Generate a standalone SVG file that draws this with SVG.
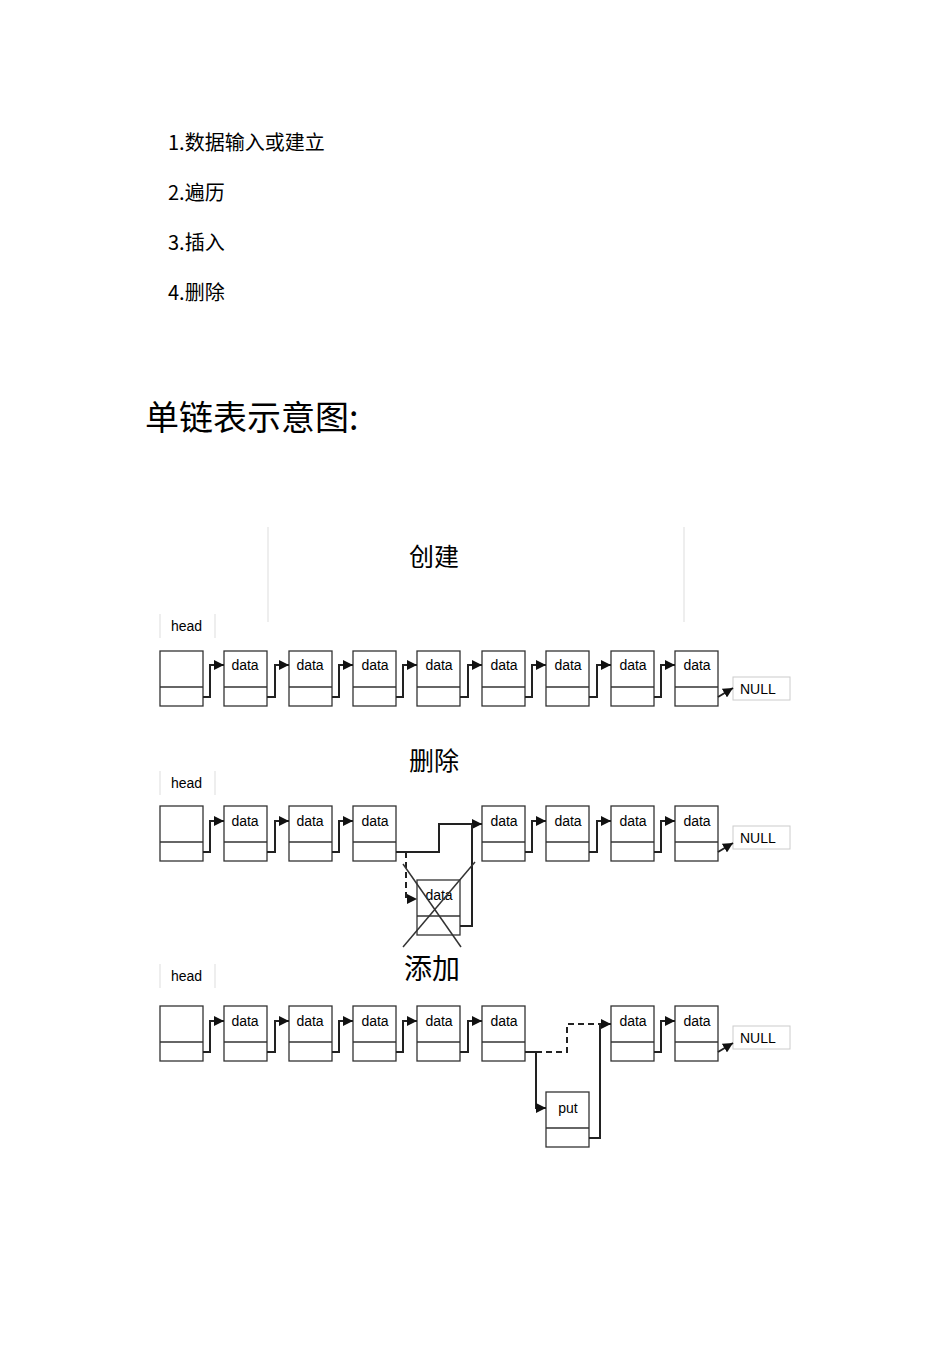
<svg xmlns="http://www.w3.org/2000/svg" width="950" height="1345" viewBox="0 0 950 1345">
<style>
.t{font-family:"Liberation Sans","Noto Sans CJK SC",sans-serif;fill:#000}
.cj{font-family:"Noto Sans CJK SC",sans-serif;fill:#000}
.b{fill:#fff;stroke:#333;stroke-width:1.3}
.c{fill:none;stroke:#222;stroke-width:2}
.d{fill:none;stroke:#222;stroke-width:2;stroke-dasharray:6,4}
.g{fill:none;stroke:#ddd;stroke-width:1}
.nl{fill:#fff;stroke:#ccc;stroke-width:1}
</style>
<defs>
<marker id="a" viewBox="0 0 10 10" refX="10" refY="5" markerWidth="5" markerHeight="5" orient="auto"><path d="M0,0L10,5L0,10z" fill="#111"/></marker>
<g id="nd"><rect class="b" x="0" y="0" width="43" height="55"/><line class="b" x1="0" y1="36" x2="43" y2="36"/></g>
</defs>
<rect width="950" height="1345" fill="#fff"/>
<g class="cj" font-size="20">
<text x="168" y="150">1.数据输入或建立</text>
<text x="168" y="200">2.遍历</text>
<text x="168" y="250">3.插入</text>
<text x="168" y="300">4.删除</text>
</g>
<text class="cj" x="145" y="430" font-size="34">单链表示意图:</text>
<line class="g" x1="268" y1="527" x2="268" y2="622"/>
<line class="g" x1="684" y1="527" x2="684" y2="622"/>
<text class="cj" x="434" y="566" font-size="25" text-anchor="middle">创建</text>
<text class="cj" x="434" y="770" font-size="25" text-anchor="middle">删除</text>
<text class="cj" x="432" y="979" font-size="28" text-anchor="middle">添加</text>
<g id="heads" class="t" font-size="14">
<text x="171" y="631">head</text><line class="g" x1="160" y1="614" x2="160" y2="638"/><line class="g" x1="215" y1="614" x2="215" y2="638"/>
<text x="171" y="788">head</text><line class="g" x1="160" y1="771" x2="160" y2="795"/><line class="g" x1="215" y1="771" x2="215" y2="795"/>
<text x="171" y="981">head</text><line class="g" x1="160" y1="964" x2="160" y2="988"/><line class="g" x1="215" y1="964" x2="215" y2="988"/>
</g>
<g id="nulls" class="t" font-size="14">
<rect class="nl" x="733" y="677" width="57" height="23"/><text x="740" y="694">NULL</text>
<rect class="nl" x="733" y="826" width="57" height="23"/><text x="740" y="843">NULL</text>
<rect class="nl" x="733" y="1026" width="57" height="23"/><text x="740" y="1043">NULL</text>
</g>
<g id="row1">
<use href="#nd" x="160" y="651"/><use href="#nd" x="224" y="651"/><use href="#nd" x="289" y="651"/><use href="#nd" x="353" y="651"/><use href="#nd" x="417" y="651"/><use href="#nd" x="482" y="651"/><use href="#nd" x="546" y="651"/><use href="#nd" x="611" y="651"/><use href="#nd" x="675" y="651"/>
</g>
<g id="row2">
<use href="#nd" x="160" y="806"/><use href="#nd" x="224" y="806"/><use href="#nd" x="289" y="806"/><use href="#nd" x="353" y="806"/><use href="#nd" x="482" y="806"/><use href="#nd" x="546" y="806"/><use href="#nd" x="611" y="806"/><use href="#nd" x="675" y="806"/>
<use href="#nd" x="417" y="880"/>
</g>
<g id="row3">
<use href="#nd" x="160" y="1006"/><use href="#nd" x="224" y="1006"/><use href="#nd" x="289" y="1006"/><use href="#nd" x="353" y="1006"/><use href="#nd" x="417" y="1006"/><use href="#nd" x="482" y="1006"/><use href="#nd" x="611" y="1006"/><use href="#nd" x="675" y="1006"/>
<use href="#nd" x="546" y="1092"/>
</g>
<g class="t" font-size="14" text-anchor="middle">
<text x="245" y="670">data</text><text x="310" y="670">data</text><text x="375" y="670">data</text><text x="439" y="670">data</text><text x="504" y="670">data</text><text x="568" y="670">data</text><text x="633" y="670">data</text><text x="697" y="670">data</text>
<text x="245" y="826">data</text><text x="310" y="826">data</text><text x="375" y="826">data</text><text x="504" y="826">data</text><text x="568" y="826">data</text><text x="633" y="826">data</text><text x="697" y="826">data</text><text x="439" y="900">data</text>
<text x="245" y="1026">data</text><text x="310" y="1026">data</text><text x="375" y="1026">data</text><text x="439" y="1026">data</text><text x="504" y="1026">data</text><text x="633" y="1026">data</text><text x="697" y="1026">data</text><text x="568" y="1113">put</text>
</g>
<g id="connectors">
<g id="c1">
<path class="c" marker-end="url(#a)" d="M203,697H210V665H224"/>
<path class="c" marker-end="url(#a)" d="M267,697H275V665H289"/>
<path class="c" marker-end="url(#a)" d="M332,697H339V665H353"/>
<path class="c" marker-end="url(#a)" d="M396,697H403V665H417"/>
<path class="c" marker-end="url(#a)" d="M460,697H468V665H482"/>
<path class="c" marker-end="url(#a)" d="M525,697H532V665H546"/>
<path class="c" marker-end="url(#a)" d="M589,697H597V665H611"/>
<path class="c" marker-end="url(#a)" d="M654,697H661V665H675"/>
<path class="c" marker-end="url(#a)" d="M718,697L733,688"/>
</g>
<g id="c2">
<path class="c" marker-end="url(#a)" d="M203,852H210V821H224"/>
<path class="c" marker-end="url(#a)" d="M267,852H275V821H289"/>
<path class="c" marker-end="url(#a)" d="M332,852H339V821H353"/>
<path class="c" marker-end="url(#a)" d="M396,852H439V824H482"/>
<path class="d" marker-end="url(#a)" d="M406,852V899H417"/>
<path class="c" d="M460,926H472V824"/>
<path class="c" marker-end="url(#a)" d="M525,852H532V821H546"/>
<path class="c" marker-end="url(#a)" d="M589,852H597V821H611"/>
<path class="c" marker-end="url(#a)" d="M654,852H661V821H675"/>
<path class="c" marker-end="url(#a)" d="M718,852L733,843"/>
<line x1="403" y1="864" x2="461" y2="947" stroke="#333" stroke-width="1.5"/>
<line x1="475" y1="862" x2="403" y2="947" stroke="#333" stroke-width="1.5"/>
</g>
<g id="c3">
<path class="c" marker-end="url(#a)" d="M203,1052H210V1021H224"/>
<path class="c" marker-end="url(#a)" d="M267,1052H275V1021H289"/>
<path class="c" marker-end="url(#a)" d="M332,1052H339V1021H353"/>
<path class="c" marker-end="url(#a)" d="M396,1052H403V1021H417"/>
<path class="c" marker-end="url(#a)" d="M460,1052H468V1021H482"/>
<path class="c" marker-end="url(#a)" d="M525,1052H536V1108H546"/>
<path class="d" d="M536,1052H567V1024H600"/>
<path class="c" marker-end="url(#a)" d="M589,1138H600V1024H611"/>
<path class="c" marker-end="url(#a)" d="M654,1052H661V1021H675"/>
<path class="c" marker-end="url(#a)" d="M718,1052L733,1043"/>
</g>
</g>
</svg>
